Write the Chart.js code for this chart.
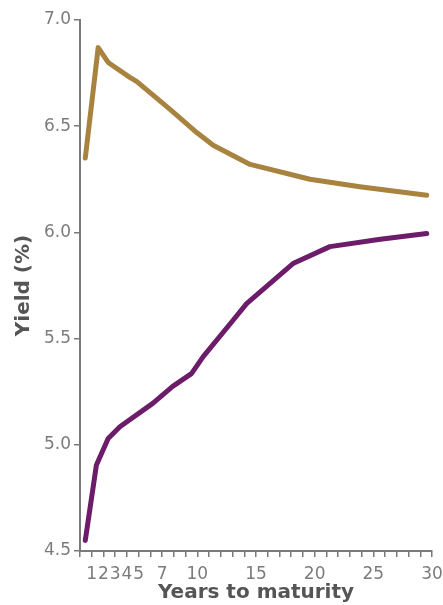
<!DOCTYPE html>
<html>
<head>
<meta charset="utf-8">
<script src="https://cdn.jsdelivr.net/npm/chart.js@4/dist/chart.umd.min.js"></script>
<style>
  html, body { margin: 0; padding: 0; background: #fff; }
  #wrap { width: 443px; height: 605px; position: relative; }
</style>
</head>
<body>
<div id="wrap"><canvas id="chart"></canvas></div>
<script>
// years to maturity / yield (%)
const goldYears = [0.45, 1.55, 2.4, 4.25, 4.85, 7.65, 9.95, 11.35, 14.5, 19.6, 23.85, 29.55];
const goldYield = [6.35, 6.87, 6.80, 6.73, 6.71, 6.58, 6.47, 6.41, 6.32, 6.25, 6.215, 6.175];

const purpleYears = [0.45, 1.4, 2.4, 3.4, 6.2, 7.9, 9.5, 10.5, 13.1, 14.2, 18.2, 21.3, 25.6, 29.55];
const purpleYield = [4.55, 4.905, 5.03, 5.085, 5.195, 5.275, 5.335, 5.415, 5.59, 5.665, 5.855, 5.933, 5.968, 5.995];

const xTickLabels = [1, 2, 3, 4, 5, 7, 10, 15, 20, 25, 30];
const yTicks = [4.5, 5.0, 5.5, 6.0, 6.5, 7.0];

const axisGray = "#7a7a7a";
const tickFont = { family: "DejaVu Sans", size: 17 };
const titleFont = { family: "DejaVu Sans", size: 20, weight: "bold" };

const toPoints = (xs, ys) => xs.map((x, i) => ({ x, y: ys[i] }));

new Chart(document.getElementById("chart").getContext("2d"), {
  type: "line",
  data: {
    datasets: [
      {
        data: toPoints(goldYears, goldYield),
        borderColor: "#a8823f",
        borderWidth: 5,
        pointRadius: 0,
        tension: 0,
        borderCapStyle: "round",
        borderJoinStyle: "round",
      },
      {
        data: toPoints(purpleYears, purpleYield),
        borderColor: "#6c1c68",
        borderWidth: 5,
        pointRadius: 0,
        tension: 0,
        borderCapStyle: "round",
        borderJoinStyle: "round",
      },
    ],
  },
  options: {
    responsive: true,
    maintainAspectRatio: false,
    animation: false,
    layout: { padding: { top: 20, right: 11, left: 0, bottom: 0 } },
    plugins: { legend: { display: false }, tooltip: { enabled: false } },
    scales: {
      x: {
        type: "linear",
        min: 0,
        max: 30,
        afterFit: (scale) => {
          scale.height = 54;
          scale.paddingLeft = 0;
          scale.paddingRight = 0;
        },
        border: { color: axisGray, width: 2 },
        grid: { drawOnChartArea: false, drawTicks: true, tickLength: 6, color: axisGray, lineWidth: 1.5 },
        ticks: {
          stepSize: 1,
          autoSkip: false,
          maxRotation: 0,
          padding: 7,
          color: "#7c7c7c",
          font: tickFont,
          callback: (v) => (xTickLabels.includes(v) ? String(v) : ""),
        },
        title: {
          display: true,
          text: "Years to maturity",
          color: "#555",
          font: titleFont,
          padding: { top: 0, bottom: 0 },
        },
      },
      y: {
        min: yTicks[0],
        max: yTicks[yTicks.length - 1],
        afterFit: (scale) => {
          scale.width = 80;
          scale.paddingTop = 0;
          scale.paddingBottom = 0;
        },
        border: { color: axisGray, width: 2 },
        grid: { drawOnChartArea: false, drawTicks: true, tickLength: 6, color: axisGray, lineWidth: 1.5 },
        ticks: {
          stepSize: 0.5,
          padding: 3,
          color: "#7c7c7c",
          font: tickFont,
          callback: (v) => v.toFixed(1),
        },
        title: {
          display: true,
          text: "Yield (%)",
          color: "#555",
          font: titleFont,
          padding: { top: 12, bottom: 0 },
        },
      },
    },
  },
});
</script>
</body>
</html>
